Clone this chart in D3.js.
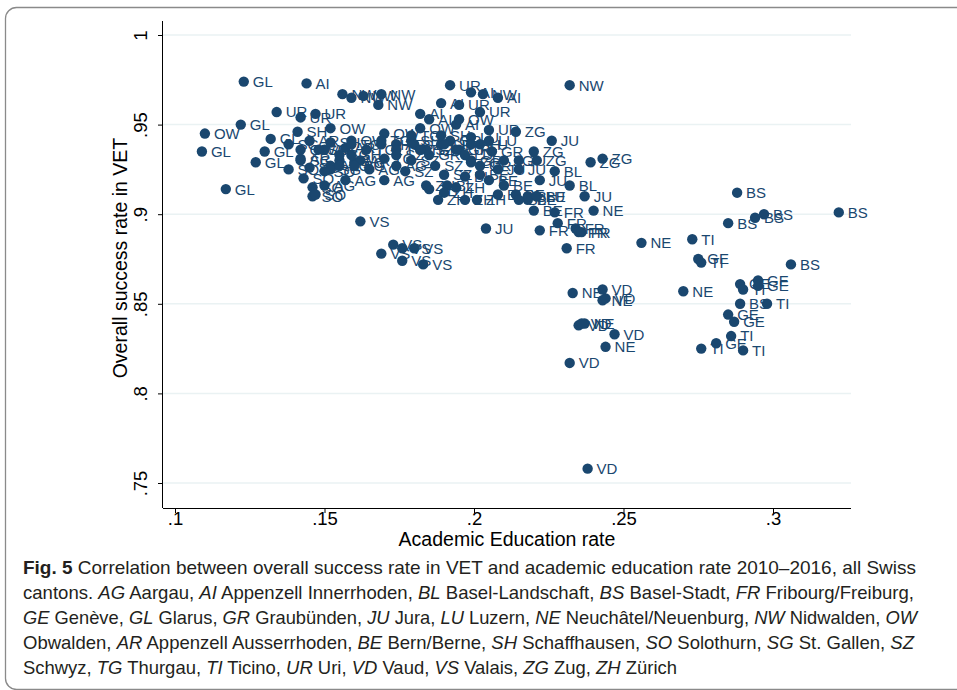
<!DOCTYPE html>
<html>
<head>
<meta charset="utf-8">
<script src="https://cdn.jsdelivr.net/npm/d3@7"></script>
<style>
  body { margin: 0; background: #fff; }
  svg { display: block; }
</style>
</head>
<body>
<div id="chart"></div>
<script>
// cantons, in the order the series are listed below
var cantons = ["AG","AI","AR","BE","BL","BS","FR","GE","GL","GR","JU","LU","NE",
               "NW","OW","SG","SH","SO","SZ","TG","TI","UR","VD","VS","ZG","ZH"];

// academic education rate, 2010-2016 (one row per canton)
var academicRate = [
  [.150,.157,.170,.160,.165,.174,.155],
  [.144,.189,.208,.182,.199,.194,.185],
  [.145,.150,.157,.142,.162,.174,.152],
  [.220,.218,.221,.214,.205,.210,.202],
  [.227,.232,.208,.218,.197,.215,.191],
  [.288,.285,.294,.297,.322,.306,.289],
  [.227,.228,.222,.234,.235,.236,.231],
  [.275,.289,.295,.295,.285,.287,.281],
  [.123,.122,.109,.117,.132,.127,.130],
  [.206,.195,.199,.189,.192,.185,.202],
  [.226,.215,.215,.222,.237,.204,.208],
  [.221,.199,.202,.194,.197,.190,.205],
  [.240,.256,.233,.270,.243,.237,.244],
  [.156,.163,.169,.168,.232,.203,.159],
  [.110,.152,.170,.195,.142,.159,.182],
  [.138,.142,.148,.155,.160,.152,.145],
  [.141,.179,.189,.199,.159,.169,.152],
  [.146,.146,.147,.138,.143,.150,.155],
  [.177,.179,.184,.187,.180,.174,.190],
  [.169,.174,.179,.159,.164,.170,.182],
  [.273,.276,.290,.298,.286,.276,.290],
  [.134,.142,.147,.192,.195,.202,.205],
  [.243,.244,.235,.247,.232,.238,.236],
  [.162,.173,.169,.176,.180,.176,.183],
  [.214,.220,.221,.239,.243,.199,.210],
  [.185,.190,.197,.201,.188,.194,.184]
];

// overall success rate in VET, same layout
var successRate = [
  [.916,.919,.919,.929,.925,.927,.930],
  [.973,.962,.965,.956,.968,.950,.953],
  [.941,.936,.937,.931,.930,.939,.927],
  [.902,.908,.910,.911,.919,.916,.922],
  [.924,.916,.911,.910,.921,.908,.916],
  [.912,.895,.898,.900,.901,.872,.850],
  [.901,.895,.891,.892,.890,.890,.881],
  [.875,.861,.863,.860,.844,.840,.828],
  [.974,.950,.935,.914,.942,.929,.935],
  [.935,.936,.930,.939,.941,.933,.927],
  [.941,.930,.925,.919,.910,.892,.925],
  [.910,.943,.939,.936,.933,.939,.941],
  [.902,.884,.856,.857,.852,.839,.826],
  [.967,.966,.967,.961,.972,.967,.965],
  [.945,.948,.945,.953,.936,.941,.948],
  [.939,.930,.936,.933,.927,.925,.926],
  [.946,.941,.944,.939,.933,.939,.940],
  [.915,.910,.911,.925,.920,.924,.927],
  [.924,.930,.936,.927,.939,.933,.922],
  [.941,.936,.944,.939,.936,.931,.936],
  [.886,.873,.858,.850,.832,.825,.824],
  [.957,.954,.956,.972,.961,.957,.947],
  [.858,.853,.838,.833,.817,.758,.839],
  [.896,.883,.878,.881,.881,.874,.872],
  [.946,.935,.930,.929,.931,.929,.930],
  [.914,.912,.908,.908,.908,.915,.916]
];

var xTicks = [.1, .15, .2, .25, .3];
var yTicks = [.75, .8, .85, .9, .95, 1];
var xTickLabels = [".1", ".15", ".2", ".25", ".3"];
var yTickLabels = [".75", ".8", ".85", ".9", ".95", "1"];

// caption lines: [text, style] pieces, b = bold, i = italic
var captionLines = [
  [["Fig. 5", "b"], ["  Correlation between overall success rate in VET and academic education rate 2010\u20132016, all Swiss", ""]],
  [["cantons. ", ""], ["AG", "i"], [" Aargau, ", ""], ["AI", "i"], [" Appenzell Innerrhoden, ", ""], ["BL", "i"], [" Basel-Landschaft, ", ""], ["BS", "i"], [" Basel-Stadt, ", ""], ["FR", "i"], [" Fribourg/Freiburg,", ""]],
  [["GE", "i"], [" Gen\u00e8ve, ", ""], ["GL", "i"], [" Glarus, ", ""], ["GR", "i"], [" Graub\u00fcnden, ", ""], ["JU", "i"], [" Jura, ", ""], ["LU", "i"], [" Luzern, ", ""], ["NE", "i"], [" Neuch\u00e2tel/Neuenburg, ", ""], ["NW", "i"], [" Nidwalden, ", ""], ["OW", "i"]],
  [["Obwalden, ", ""], ["AR", "i"], [" Appenzell Ausserrhoden, ", ""], ["BE", "i"], [" Bern/Berne, ", ""], ["SH", "i"], [" Schaffhausen, ", ""], ["SO", "i"], [" Solothurn, ", ""], ["SG", "i"], [" St. Gallen, ", ""], ["SZ", "i"]],
  [["Schwyz, ", ""], ["TG", "i"], [" Thurgau, ", ""], ["TI", "i"], [" Ticino, ", ""], ["UR", "i"], [" Uri, ", ""], ["VD", "i"], [" Vaud, ", ""], ["VS", "i"], [" Valais, ", ""], ["ZG", "i"], [" Zug, ", ""], ["ZH", "i"], [" Z\u00fcrich", ""]]
];
var captionWidths = [893, 891, 894, 891, 654];

var W = 957, H = 690;
var navy = "#1a476f";
var sans = "'Liberation Sans', Arial, sans-serif";

var svg = d3.select("#chart").append("svg")
  .attr("width", W).attr("height", H)
  .style("font-family", sans);

// figure frame
svg.append("rect")
  .attr("x", 5.5).attr("y", 7.5)
  .attr("width", 962).attr("height", 682)
  .attr("rx", 11)
  .attr("fill", "none").attr("stroke", "#8a8a8a").attr("stroke-width", 1.3);

var x = d3.scaleLinear().domain([0.1, 0.3]).range([175, 773]);
var y = d3.scaleLinear().domain([0.75, 1]).range([483, 35]);
var plotLeft = 163, plotRight = 851, plotTop = 21, plotBottom = 508;

// gridlines
svg.append("g").selectAll("line").data(yTicks).join("line")
  .attr("x1", plotLeft).attr("x2", plotRight)
  .attr("y1", function(d) { return y(d); }).attr("y2", function(d) { return y(d); })
  .attr("stroke", "#eaf2f3").attr("stroke-width", 1.5);

// axes
var xAxis = d3.axisBottom(x).tickValues(xTicks).tickSize(5)
  .tickFormat(function(d, i) { return xTickLabels[i]; });
var gx = svg.append("g").attr("transform", "translate(0," + plotBottom + ")").call(xAxis);
gx.select(".domain").attr("d", "M" + plotLeft + ",0.5H" + plotRight);
gx.selectAll(".tick text")
  .attr("y", 17).attr("dy", null)
  .attr("font-size", 18.5).attr("fill", "#000")
  .style("font-family", sans);

var yAxis = d3.axisLeft(y).tickValues(yTicks).tickSize(5)
  .tickFormat(function(d, i) { return yTickLabels[i]; });
var gy = svg.append("g").attr("transform", "translate(" + plotLeft + ",0)").call(yAxis);
gy.select(".domain").attr("d", "M-0.5," + plotTop + "V" + plotBottom);
gy.selectAll(".tick text")
  .attr("x", null).attr("dy", null)
  .attr("font-size", 18.5).attr("fill", "#000")
  .attr("text-anchor", "middle")
  .attr("transform", "translate(-16,0) rotate(-90)")
  .style("font-family", sans);

// axis titles
svg.append("text")
  .attr("x", 507).attr("y", 546)
  .attr("text-anchor", "middle").attr("font-size", 19.5)
  .text("Academic Education rate");
svg.append("text")
  .attr("transform", "translate(127,258) rotate(-90)")
  .attr("text-anchor", "middle").attr("font-size", 19.5)
  .text("Overall success rate in VET");

// points with labels
var pts = [];
cantons.forEach(function(c, i) {
  academicRate[i].forEach(function(v, j) {
    pts.push({ canton: c, ax: v, sr: successRate[i][j] });
  });
});

var pg = svg.append("g").selectAll("g").data(pts).join("g")
  .attr("transform", function(d) { return "translate(" + x(d.ax) + "," + y(d.sr) + ")"; });
pg.append("circle").attr("r", 5.2).attr("fill", navy);
pg.append("text")
  .attr("x", 9).attr("dy", "0.36em")
  .attr("font-size", 15).attr("fill", navy)
  .text(function(d) { return d.canton; });

// caption
var cap = svg.append("g")
  .style("font-family", sans)
  .attr("font-size", 19).attr("fill", "#231f20");
captionLines.forEach(function(line, i) {
  var t = cap.append("text").attr("x", 23).attr("y", 574 + i * 25)
    .attr("textLength", captionWidths[i]).attr("lengthAdjust", "spacingAndGlyphs");
  line.forEach(function(p) {
    var s = t.append("tspan").text(p[0]);
    if (p[1] === "i") s.attr("font-style", "italic");
    if (p[1] === "b") s.attr("font-weight", "bold");
  });
});
</script>
</body>
</html>
